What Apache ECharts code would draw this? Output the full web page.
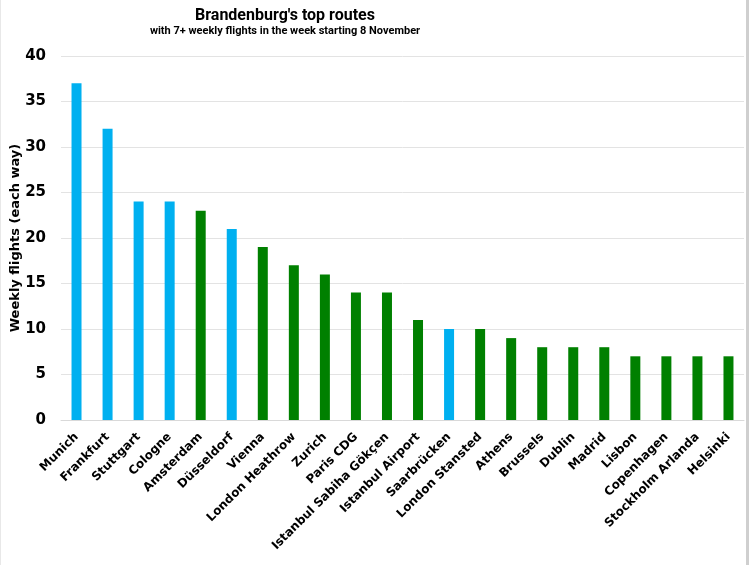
<!DOCTYPE html>
<html>
<head>
<meta charset="utf-8">
<script src="https://cdn.jsdelivr.net/npm/echarts@6/dist/echarts.min.js"></script>
<style>
  html, body { margin: 0; padding: 0; background: #fff; }
  #chart { width: 749px; height: 565px; box-sizing: border-box; border-right: 3px solid #cfcfcf; border-left: 1px solid #e8e8e8; }
</style>
</head>
<body>
<div id="chart"></div>
<script>
// routes out of Brandenburg, week starting 8 November
var routes = ['Munich', 'Frankfurt', 'Stuttgart', 'Cologne', 'Amsterdam', 'Düsseldorf', 'Vienna',
    'London Heathrow', 'Zurich', 'Paris CDG', 'Istanbul Sabiha Gökçen', 'Istanbul Airport',
    'Saarbrücken', 'London Stansted', 'Athens', 'Brussels', 'Dublin', 'Madrid', 'Lisbon',
    'Copenhagen', 'Stockholm Arlanda', 'Helsinki'];
var weeklyFlights = [37, 32, 24, 24, 23, 21, 19, 17, 16, 14, 14, 11, 10, 10, 9, 8, 8, 8, 7, 7, 7, 7];
var domestic = [true, true, true, true, false, true, false, false, false, false, false, false,
    true, false, false, false, false, false, false, false, false, false];

var chart = echarts.init(document.getElementById('chart'));

var barData = weeklyFlights.map(function (v, i) {
    return {
        value: v,
        itemStyle: { color: domestic[i] ? '#00b0f0' : '#008000' }
    };
});

chart.setOption({
    animation: false,
    title: {
        text: "Brandenburg's top routes",
        subtext: 'with 7+ weekly flights in the week starting 8 November',
        left: 279,
        textAlign: 'center',
        top: 3,
        itemGap: 2,
        textStyle: { fontFamily: 'Roboto', fontWeight: 'bold', fontSize: 16, color: '#000' },
        subtextStyle: { fontFamily: 'Roboto', fontWeight: 'bold', fontSize: 11, color: '#000' }
    },
    grid: { left: 60, right: 2, top: 56, bottom: 145, outerBoundsMode: 'none' },
    xAxis: {
        type: 'category',
        data: routes,
        axisLine: { lineStyle: { color: '#d9d9d9' } },
        axisTick: { show: false },
        axisLabel: {
            interval: 0,
            rotate: 45,
            margin: 15,
            color: '#000',
            fontFamily: 'DejaVu Sans',
            fontWeight: 'bold',
            fontSize: 12
        }
    },
    yAxis: {
        type: 'value',
        min: 0,
        max: 40,
        interval: 5,
        name: 'Weekly flights (each way)',
        nameLocation: 'middle',
        nameGap: 39,
        nameMoveOverlap: false,
        nameTextStyle: { fontFamily: 'DejaVu Sans', fontWeight: 'bold', fontSize: 13, color: '#000' },
        axisLine: { show: false },
        axisTick: { show: false },
        axisLabel: { color: '#000', fontFamily: 'DejaVu Sans', fontWeight: 'bold', fontSize: 15, margin: 15 },
        splitLine: { lineStyle: { color: '#e3e3e3' } }
    },
    series: [{
        type: 'bar',
        data: barData,
        barWidth: 10
    }]
});
</script>
</body>
</html>
